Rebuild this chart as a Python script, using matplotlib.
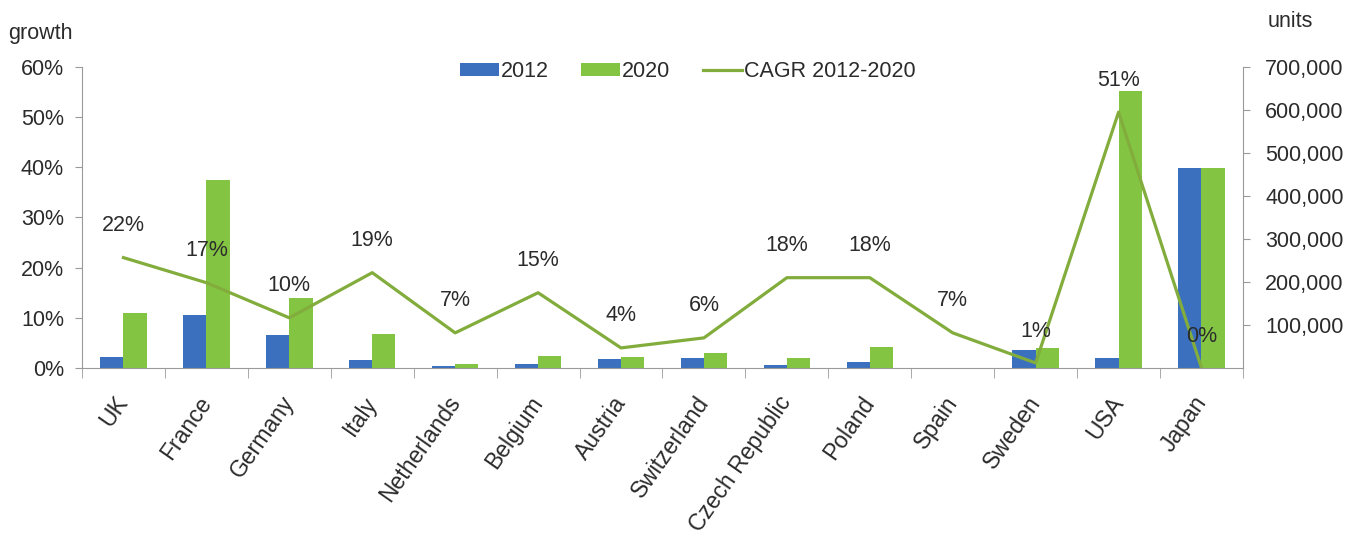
import matplotlib.pyplot as plt
from matplotlib.ticker import FuncFormatter, FixedLocator

plt.rcParams['font.family'] = ['Liberation Sans', 'DejaVu Sans']

countries = ['UK', 'France', 'Germany', 'Italy', 'Netherlands', 'Belgium', 'Austria',
             'Switzerland', 'Czech Republic', 'Poland', 'Spain', 'Sweden', 'USA', 'Japan']
units_2012 = [26000, 123000, 77000, 19000, 5000, 9000, 21000,
              23000, 6000, 13000, 500, 42000, 23000, 465000]
units_2020 = [128000, 437000, 163000, 79000, 9000, 28000, 26000,
              35000, 23000, 49000, 900, 47000, 644000, 465000]
cagr = [22, 17, 10, 19, 7, 15, 4, 6, 18, 18, 7, 1, 51, 0]

blue = '#3B70BF'
green = '#84C443'
olive = '#82AD3C'
txt = '#2b2b2b'
axc = '#9a9a9a'

fig = plt.figure(figsize=(13.62, 5.39), dpi=100)
ax = fig.add_axes([0.0602, 0.3173, 0.8524, 0.5584])
ax2 = ax.twinx()

x = list(range(len(countries)))
w = 0.28
b1 = ax2.bar([i - w / 2 for i in x], units_2012, w, color=blue, label='2012')
b2 = ax2.bar([i + w / 2 for i in x], units_2020, w, color=green, label='2020')
ax2.set_ylim(0, 700000)
ax2.yaxis.set_major_locator(FixedLocator(range(100000, 700001, 100000)))
ax2.yaxis.set_major_formatter(FuncFormatter(lambda v, p: '{:,.0f}'.format(v)))

# growth line sits above the bars
ax.set_zorder(ax2.get_zorder() + 1)
ax.patch.set_visible(False)
growth = [c / 100 for c in cagr]
ln, = ax.plot(x, growth, color=olive, lw=2.3, label='CAGR 2012-2020')
for i, c in enumerate(cagr):
    ax.annotate('%d%%' % c, (i, growth[i]), xytext=(0, 23), textcoords='offset points',
                ha='center', va='center', fontsize=15.5, color=txt)

ax.set_ylim(0, 0.6)
ax.set_yticks([0, 0.1, 0.2, 0.3, 0.4, 0.5, 0.6])
ax.yaxis.set_major_formatter(FuncFormatter(lambda v, p: '%d%%' % round(v * 100)))
ax.set_xlim(-0.5, len(countries) - 0.5)
ax2.set_xlim(-0.5, len(countries) - 0.5)

ax.set_xticks(x)
ax.set_xticklabels(countries, rotation=55, ha='right', va='center', rotation_mode='anchor')
ax.set_xticks([i - 0.5 for i in range(len(countries) + 1)], minor=True)
ax.tick_params(axis='x', which='major', length=0, pad=22, labelsize=16.5, labelcolor=txt)
ax.tick_params(axis='x', which='minor', length=7, color=axc, direction='out')
ax.tick_params(axis='y', length=5, color=axc, labelsize=15.5, labelcolor=txt, pad=8)
ax2.tick_params(axis='y', length=5, color=axc, labelsize=15.5, labelcolor=txt, pad=11)

for a in (ax, ax2):
    a.spines['top'].set_visible(False)
    for s in a.spines.values():
        s.set_color(axc)
ax.spines['right'].set_visible(False)
ax2.spines['left'].set_visible(False)
ax2.spines['bottom'].set_visible(False)

fig.text(0.006, 0.938, 'growth', fontsize=15.5, color=txt, va='center')
fig.text(0.931, 0.960, 'units', fontsize=15.5, color=txt, va='center')

fig.legend(handles=[b1, b2, ln], loc='center', bbox_to_anchor=(0.505, 0.868), ncol=3,
           frameon=False, fontsize=15.5, handlelength=1.8, handleheight=0.55,
           handletextpad=0.1, columnspacing=1.5, labelcolor=txt)

fig.savefig('out.png', dpi=100)
